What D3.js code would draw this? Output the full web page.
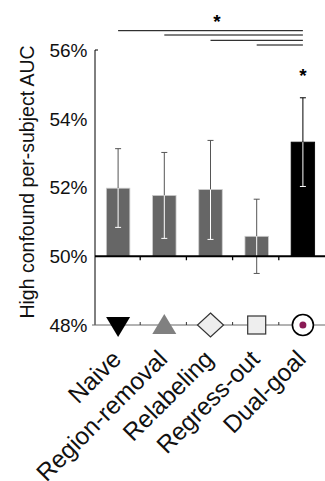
<!DOCTYPE html>
<html>
<head>
<meta charset="utf-8">
<script src="https://cdn.jsdelivr.net/npm/d3@7"></script>
<style>
    body { margin: 0; background: #fff; }
    text { font-family: "Liberation Sans", Arial, sans-serif; }
</style>
</head>
<body>
<svg width="325" height="481"></svg>
<script>
// Chart data
const methods = ["Naive", "Region-removal", "Relabeling", "Regress-out", "Dual-goal"];
const aucMean = [51.98, 51.77, 51.94, 50.58, 53.32];
const aucLow = [50.84, 50.52, 50.49, 49.50, 52.03];
const aucHigh = [53.13, 53.02, 53.37, 51.66, 54.61];
const yTicks = [48, 50, 52, 54, 56];
const markerShapes = ["triangleDown", "triangleUp", "diamond", "square", "circle"];
const sigPairs = [[0, 4], [1, 4], [2, 4], [3, 4]];

const svg = d3.select("svg");

const x = d3.scaleBand()
    .domain(methods)
    .range([94, 325])
    .paddingInner(0)
    .paddingOuter(0);

const y = d3.scaleLinear()
    .domain([48, 56])
    .range([325, 50]);

function center(m) {
    return x(m) + x.bandwidth() / 2 + 1;
}

// y axis
svg.append("line")
    .attr("x1", 95).attr("x2", 95)
    .attr("y1", y(56)).attr("y2", y(48))
    .attr("stroke", "black").attr("stroke-width", 1);
svg.append("line")
    .attr("x1", 95).attr("x2", 98)
    .attr("y1", y(56)).attr("y2", y(56))
    .attr("stroke", "black");
svg.append("line")
    .attr("x1", 92).attr("x2", 95)
    .attr("y1", y(48)).attr("y2", y(48))
    .attr("stroke", "#666");

svg.selectAll(".ytick")
    .data(yTicks)
    .join("text")
    .attr("class", "ytick")
    .attr("x", 87.5)
    .attr("y", d => y(d))
    .attr("dy", "0.36em")
    .attr("text-anchor", "end")
    .attr("font-size", 19)
    .attr("fill", "#111")
    .text(d => d + "%");

svg.append("text")
    .attr("transform", "translate(33.5,182) rotate(-90)")
    .attr("text-anchor", "middle")
    .attr("font-size", 19.5)
    .attr("fill", "#111")
    .text("High confound per-subject AUC");

// bars
const barW = 23.5;
svg.selectAll(".bar")
    .data(methods)
    .join("rect")
    .attr("class", "bar")
    .attr("x", d => center(d) - barW / 2)
    .attr("width", barW)
    .attr("y", (d, i) => y(aucMean[i]))
    .attr("height", (d, i) => y(50) - y(aucMean[i]))
    .attr("fill", (d, i) => i === 4 ? "black" : "#666")
    .attr("stroke", (d, i) => i === 4 ? "black" : "#ccc")
    .attr("stroke-width", 0.8);

// error bars: dark outside the bar, white inside
methods.forEach(function (m, i) {
    const cx = center(m);
    const outColor = i === 4 ? "black" : "#555";
    const g = svg.append("g");
    g.append("line")
        .attr("x1", cx).attr("x2", cx)
        .attr("y1", y(aucHigh[i])).attr("y2", y(aucMean[i]))
        .attr("stroke", outColor).attr("stroke-width", 1);
    g.append("line")
        .attr("x1", cx).attr("x2", cx)
        .attr("y1", y(aucMean[i])).attr("y2", y(Math.max(aucLow[i], 50)))
        .attr("stroke", "white").attr("stroke-width", 1);
    if (aucLow[i] < 50) {
        g.append("line")
            .attr("x1", cx).attr("x2", cx)
            .attr("y1", y(50)).attr("y2", y(aucLow[i]))
            .attr("stroke", outColor).attr("stroke-width", 1);
    }
    g.append("line")
        .attr("x1", cx - 3).attr("x2", cx + 3)
        .attr("y1", y(aucHigh[i])).attr("y2", y(aucHigh[i]))
        .attr("stroke", outColor);
    g.append("line")
        .attr("x1", cx - 3).attr("x2", cx + 3)
        .attr("y1", y(aucLow[i])).attr("y2", y(aucLow[i]))
        .attr("stroke", aucLow[i] < 50 ? outColor : "white");
});

// 50% baseline with ticks
svg.append("line")
    .attr("x1", 95).attr("x2", 325)
    .attr("y1", y(50)).attr("y2", y(50))
    .attr("stroke", "black").attr("stroke-width", 2);
svg.selectAll(".btick")
    .data(methods.slice(1))
    .join("line")
    .attr("class", "btick")
    .attr("x1", d => x(d)).attr("x2", d => x(d))
    .attr("y1", y(50)).attr("y2", y(50) + 4)
    .attr("stroke", "black").attr("stroke-width", 1.3);

// 48% line with markers
svg.append("line")
    .attr("x1", 95).attr("x2", 325)
    .attr("y1", y(48)).attr("y2", y(48))
    .attr("stroke", "#666").attr("stroke-width", 1);
svg.selectAll(".mtick")
    .data(methods.slice(1))
    .join("line")
    .attr("class", "mtick")
    .attr("x1", d => x(d)).attr("x2", d => x(d))
    .attr("y1", y(48) - 3).attr("y2", y(48))
    .attr("stroke", "#333").attr("stroke-width", 1);

methods.forEach(function (m, i) {
    const cx = center(m);
    const cy = y(48);
    const shape = markerShapes[i];
    if (shape === "triangleDown") {
        svg.append("path")
            .attr("d", `M${cx - 12},${cy - 8} L${cx + 12},${cy - 8} L${cx},${cy + 12} Z`)
            .attr("fill", "black");
    } else if (shape === "triangleUp") {
        svg.append("path")
            .attr("d", `M${cx - 12},${cy + 9} L${cx + 12},${cy + 9} L${cx},${cy - 11} Z`)
            .attr("fill", "#808080");
    } else if (shape === "diamond") {
        svg.append("path")
            .attr("d", `M${cx},${cy - 12} L${cx + 13},${cy} L${cx},${cy + 12} L${cx - 13},${cy} Z`)
            .attr("fill", "#eee").attr("stroke", "#333").attr("stroke-width", 1.2);
    } else if (shape === "square") {
        svg.append("rect")
            .attr("x", cx - 9).attr("y", cy - 9)
            .attr("width", 18).attr("height", 18)
            .attr("fill", "#eee").attr("stroke", "#333").attr("stroke-width", 1.2);
    } else {
        svg.append("circle")
            .attr("cx", cx).attr("cy", cy).attr("r", 10.5)
            .attr("fill", "white").attr("stroke", "black").attr("stroke-width", 1.6);
        svg.append("circle")
            .attr("cx", cx).attr("cy", cy).attr("r", 3.5)
            .attr("fill", "#8a1a55");
    }
});

// x labels: rotated, then aligned by their bounding box (right edge, top edge)
methods.forEach(function (m) {
    const g = svg.append("g");
    const inner = g.append("g").attr("transform", "rotate(-45)");
    inner.append("text")
        .attr("class", "xlabel")
        .attr("text-anchor", "end")
        .attr("font-size", 24.5)
        .attr("fill", "#111")
        .text(m);
    const box = inner.node().getBoundingClientRect();
    const right = center(m) + 8;
    const top = 345;
    g.attr("transform", `translate(${right - box.right},${top - box.top})`);
});

// significance lines
const sigY = [30.7, 35, 40.3, 45];
svg.selectAll(".sig")
    .data(sigPairs)
    .join("line")
    .attr("class", "sig")
    .attr("x1", d => center(methods[d[0]]))
    .attr("x2", d => center(methods[d[1]]))
    .attr("y1", (d, i) => sigY[i]).attr("y2", (d, i) => sigY[i])
    .attr("stroke", "black").attr("stroke-width", 1);

svg.append("text")
    .attr("x", 217).attr("y", 28)
    .attr("text-anchor", "middle")
    .attr("font-size", 19)
    .attr("font-weight", "bold")
    .text("*");
svg.append("text")
    .attr("x", center("Dual-goal")).attr("y", 82)
    .attr("text-anchor", "middle")
    .attr("font-size", 19)
    .attr("font-weight", "bold")
    .text("*");
</script>
</body>
</html>
